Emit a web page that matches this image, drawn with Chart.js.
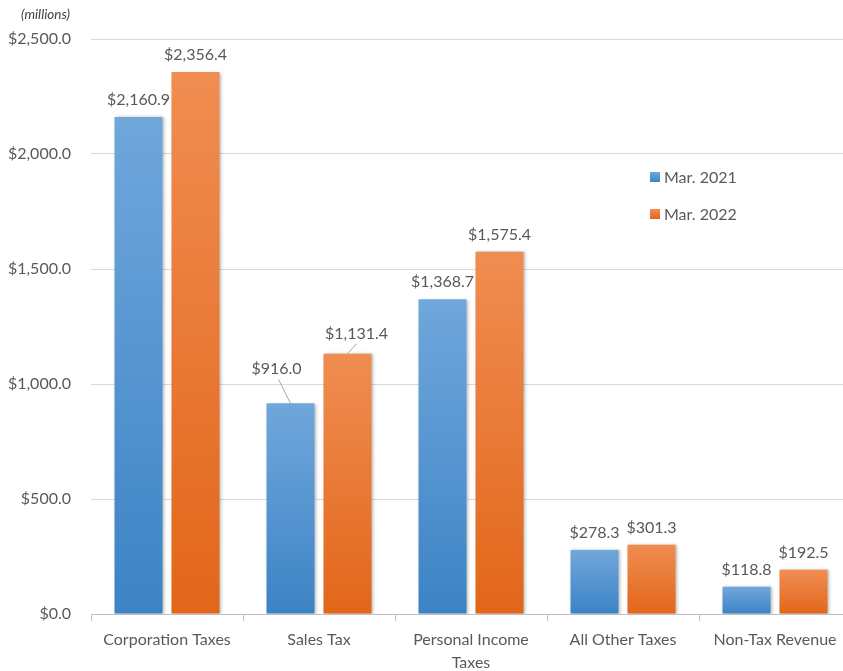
<!DOCTYPE html>
<html lang="en">
<head>
  <meta charset="UTF-8" />
  <title>Revenue by Source</title>
  <script src="https://cdn.jsdelivr.net/npm/chart.js"></script>
  <style>
    html, body { margin: 0; padding: 0; background: #fff; overflow: hidden; }
    .wrap { position: relative; width: 851px; height: 671px; }
    .units { position: absolute; left: 21px; top: 6px; font: italic 13.5px Lato, sans-serif; color: #404040; }
  </style>
</head>
<body>
  <div class="wrap">
    <div class="units">(millions)</div>
    <canvas id="revChart" width="851" height="671"></canvas>
  </div>

  <script>
const categories = ["Corporation Taxes", "Sales Tax", ["Personal Income", "Taxes"], "All Other Taxes", "Non-Tax Revenue"];
const seriesNames = ["Mar. 2021", "Mar. 2022"];
const mar2021 = [2160.9, 916.0, 1368.7, 278.3, 118.8];
const mar2022 = [2356.4, 1131.4, 1575.4, 301.3, 192.5];
const yMax = 2500;
const yStep = 500;

const FONT = "Lato, 'Open Sans', sans-serif";
const GRAY = '#595959';

function money(v) {
  return '$' + v.toLocaleString('en-US', { minimumFractionDigits: 1, maximumFractionDigits: 1 });
}

// light at the top of each bar, darker at the base
function barGradient(light, dark) {
  return function (ctx) {
    const chart = ctx.chart;
    const y = chart.scales.y;
    if (!y || ctx.raw == null) return light;
    const top = y.getPixelForValue(ctx.raw);
    const bottom = y.getPixelForValue(0);
    if (!isFinite(top) || top === bottom) return light;
    const g = chart.ctx.createLinearGradient(0, top, 0, bottom);
    g.addColorStop(0, light);
    g.addColorStop(1, dark);
    return g;
  };
}

const barShadow = {
  id: 'barShadow',
  beforeDatasetsDraw(chart) {
    const c = chart.ctx;
    c.save();
    c.shadowColor = 'rgba(0,0,0,0.28)';
    c.shadowBlur = 3;
    c.shadowOffsetX = 1.5;
    c.shadowOffsetY = 0.5;
  },
  afterDatasetsDraw(chart) {
    chart.ctx.restore();
  }
};

const valueLabels = {
  id: 'valueLabels',
  afterDatasetsDraw(chart, args, opts) {
    const c = chart.ctx;
    c.save();
    c.font = '16px ' + FONT;
    c.fillStyle = GRAY;
    c.textAlign = 'center';
    c.textBaseline = 'middle';
    chart.data.datasets.forEach((ds, di) => {
      chart.getDatasetMeta(di).data.forEach((bar, i) => {
        const off = (opts.moved[di] || {})[i];
        let x = bar.x, y = bar.y - 17;
        if (off) {
          x = bar.x + off[0];
          y = bar.y - off[1];
          c.strokeStyle = '#a6a6a6';
          c.lineWidth = 1;
          c.beginPath();
          c.moveTo(bar.x, bar.y);
          c.lineTo(x + off[2], y + 10);
          c.stroke();
        }
        c.fillText(money(ds.data[i]), x, y);
      });
    });
    c.restore();
  }
};

const sideLegend = {
  id: 'sideLegend',
  afterDraw(chart, args, opts) {
    const c = chart.ctx;
    c.save();
    c.font = '16px ' + FONT;
    c.textBaseline = 'middle';
    chart.data.datasets.forEach((ds, i) => {
      const y = opts.y + i * opts.gap;
      const g = c.createLinearGradient(0, y - 5, 0, y + 5);
      g.addColorStop(0, ds.swatch[0]);
      g.addColorStop(1, ds.swatch[1]);
      c.fillStyle = g;
      c.fillRect(opts.x, y - 5, 10, 10);
      c.fillStyle = GRAY;
      c.fillText(ds.label, opts.x + 14, y + 1);
    });
    c.restore();
  }
};

new Chart(document.getElementById('revChart').getContext('2d'), {
  type: 'bar',
  data: {
    labels: categories,
    datasets: [
      {
        label: seriesNames[0],
        data: mar2021,
        backgroundColor: barGradient('#70a7dc', '#3c83c5'),
        swatch: ['#70a7dc', '#3c83c5'],
        categoryPercentage: 0.75,
        barPercentage: 0.842
      },
      {
        label: seriesNames[1],
        data: mar2022,
        backgroundColor: barGradient('#f08d52', '#e2661a'),
        swatch: ['#f08d52', '#e2661a'],
        categoryPercentage: 0.75,
        barPercentage: 0.842
      }
    ]
  },
  plugins: [barShadow, valueLabels, sideLegend],
  options: {
    responsive: false,
    animation: false,
    layout: { padding: { top: 39, right: 0, left: 0, bottom: 0 } },
    plugins: {
      legend: { display: false },
      tooltip: { enabled: false },
      valueLabels: {
        // [dx, rise above bar top, leader end x-shift]
        moved: { 0: { 1: [-14, 34, 2] }, 1: { 1: [9, 20, 0] } }
      },
      sideLegend: { x: 650, y: 177, gap: 37 }
    },
    scales: {
      x: {
        grid: {
          offset: true,
          drawOnChartArea: false,
          color: '#bfbfbf',
          tickLength: 7
        },
        border: { color: '#bfbfbf' },
        ticks: {
          color: GRAY,
          font: { family: FONT, size: 16, lineHeight: 1.4 },
          padding: 8,
          maxRotation: 0,
          autoSkip: false
        },
        afterFit(scale) { scale.height = 57; }
      },
      y: {
        min: 0,
        max: yMax,
        border: { display: false },
        grid: { color: '#d9d9d9', drawTicks: false },
        ticks: {
          stepSize: yStep,
          color: GRAY,
          padding: 20,
          font: { family: FONT, size: 16 },
          callback: v => money(v)
        },
        afterFit(scale) { scale.width = 91; }
      }
    }
  }
});
  </script>
</body>
</html>
